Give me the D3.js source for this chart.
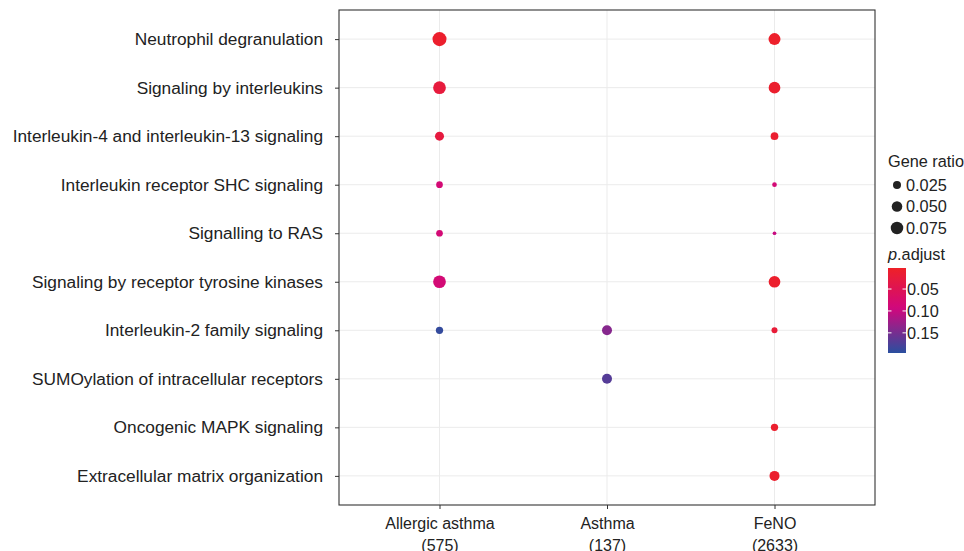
<!DOCTYPE html>
<html><head><meta charset="utf-8">
<script src="https://cdn.jsdelivr.net/npm/d3@7"></script>
<style>body{margin:0;background:#fff}svg{display:block;font-family:"Liberation Sans",Arial,sans-serif}</style>
</head><body><svg id="c" width="964" height="551"></svg>
<script>
const pathways = ["Neutrophil degranulation","Signaling by interleukins","Interleukin-4 and interleukin-13 signaling","Interleukin receptor SHC signaling","Signalling to RAS","Signaling by receptor tyrosine kinases","Interleukin-2 family signaling","SUMOylation of intracellular receptors","Oncogenic MAPK signaling","Extracellular matrix organization"];
const groups = ["Allergic asthma","Asthma","FeNO"];
const groupCounts = ["(575)","(137)","(2633)"];
// per-group gene ratio (null = not enriched)
const allergicRatio = [0.098,0.078,0.034,0.0155,0.0155,0.078,0.0196,null,null,null];
const asthmaRatio   = [null,null,null,null,null,null,0.044,0.044,null,null];
const fenoRatio     = [0.068,0.064,0.0226,0.0053,0.0022,0.064,0.0113,null,0.0196,0.044];
const allergicP = [0.008,0.025,0.028,0.085,0.085,0.085,0.19,null,null,null];
const asthmaP   = [null,null,null,null,null,null,0.14,0.17,null,null];
const fenoP     = [0.006,0.01,0.012,0.085,0.1,0.008,0.02,null,0.01,0.01];
const sizeBreaks = [0.025,0.050,0.075];
const colorBreaks = [0.05,0.10,0.15];
const pDomain = [0.002,0.196];

const svg = d3.select("#c");
const L=339,R=875,T=10,B=505;
const x = d3.scalePoint().domain(groups).range([L,R]).padding(0.6);
const y = d3.scalePoint().domain(pathways).range([T,B]).padding(0.6);
const rScale = d3.scaleLinear().domain([Math.sqrt(0.025),Math.sqrt(0.075)]).range([4,6.25]);
const r = v => rScale(Math.sqrt(v));
const color = d3.scaleLinear().domain([pDomain[0],0.095,pDomain[1]]).range(["#ee2127","#d0077e","#2a4f9f"]).interpolate(d3.interpolateRgb).clamp(true);

// grid
const g = svg.append("g");
g.selectAll(".gx").data(groups).join("line").attr("x1",d=>x(d)).attr("x2",d=>x(d)).attr("y1",T).attr("y2",B).attr("stroke","#ebebeb").attr("stroke-width",1);
g.selectAll(".gy").data(pathways).join("line").attr("y1",d=>y(d)).attr("y2",d=>y(d)).attr("x1",L).attr("x2",R).attr("stroke","#ebebeb").attr("stroke-width",1);

// points
const series=[[allergicRatio,allergicP],[asthmaRatio,asthmaP],[fenoRatio,fenoP]];
const pts=[];
series.forEach((s,gi)=>s[0].forEach((v,i)=>{ if(v!=null) pts.push({g:groups[gi],p:pathways[i],ratio:v,padj:s[1][i]}); }));
g.selectAll("circle").data(pts).join("circle").attr("cx",d=>x(d.g)).attr("cy",d=>y(d.p)).attr("r",d=>r(d.ratio)).attr("fill",d=>color(d.padj));

// panel border
svg.append("rect").attr("x",L).attr("y",T).attr("width",R-L).attr("height",B-T).attr("fill","none").attr("stroke","#333").attr("stroke-width",1.1);

// axes
const ya = svg.append("g").attr("transform",`translate(${L},0)`).call(d3.axisLeft(y).tickSize(4).tickPadding(12));
ya.select(".domain").remove();
ya.selectAll(".tick line").attr("stroke","#333");
ya.selectAll(".tick text").attr("fill","#222").attr("font-size",17.3).attr("font-family","Liberation Sans, Arial, sans-serif");
const xa = svg.append("g").attr("transform",`translate(0,${B})`).call(d3.axisBottom(x).tickSize(4).tickPadding(9));
xa.select(".domain").remove();
xa.selectAll(".tick line").attr("stroke","#333");
xa.selectAll(".tick text").attr("fill","#222").attr("font-size",16).attr("font-family","Liberation Sans, Arial, sans-serif")
  .each(function(d,i){ const t=d3.select(this); t.text(null);
    t.append("tspan").attr("x",0).attr("dy","0.71em").text(d);
    t.append("tspan").attr("x",0).attr("dy","1.38em").text(groupCounts[i]); });

// legend: size
const lg = svg.append("g");
lg.append("text").attr("x",888).attr("y",167).attr("font-size",16.3).attr("fill","#222").text("Gene ratio");
const ly = d3.scalePoint().domain(sizeBreaks).range([185,228]);
lg.selectAll(".sd").data(sizeBreaks).join("circle").attr("cx",897).attr("cy",d=>ly(d)).attr("r",d=>r(d)).attr("fill","#222");
lg.selectAll(".st").data(sizeBreaks).join("text").attr("x",906).attr("y",d=>ly(d)).attr("dy","0.35em").attr("font-size",16.3).attr("fill","#222").text(d=>d3.format(".3f")(d));

// legend: color
const ct = lg.append("text").attr("x",888).attr("y",260).attr("font-size",16.3).attr("fill","#222");
ct.append("tspan").attr("font-style","italic").text("p");
ct.append("tspan").text(".adjust");
const cbTop=268,cbBot=353,cbX=888,cbW=18;
const cy = d3.scaleLinear().domain(pDomain).range([cbTop,cbBot]);
const defs=svg.append("defs");
const grad=defs.append("linearGradient").attr("id","cb").attr("x1",0).attr("x2",0).attr("y1",0).attr("y2",1);
d3.range(0,1.0001,0.05).forEach(t=>grad.append("stop").attr("offset",t).attr("stop-color",color(pDomain[0]+t*(pDomain[1]-pDomain[0]))));
lg.append("rect").attr("x",cbX).attr("y",cbTop).attr("width",cbW).attr("height",cbBot-cbTop).attr("fill","url(#cb)");
colorBreaks.forEach(b=>{
  lg.append("line").attr("x1",cbX).attr("x2",cbX+3.5).attr("y1",cy(b)).attr("y2",cy(b)).attr("stroke","#fff").attr("stroke-width",1);
  lg.append("line").attr("x1",cbX+cbW-3.5).attr("x2",cbX+cbW).attr("y1",cy(b)).attr("y2",cy(b)).attr("stroke","#fff").attr("stroke-width",1);
  lg.append("text").attr("x",cbX+cbW+1).attr("y",cy(b)).attr("dy","0.35em").attr("font-size",16.3).attr("fill","#222").text(d3.format(".2f")(b));
});
</script></body></html>
